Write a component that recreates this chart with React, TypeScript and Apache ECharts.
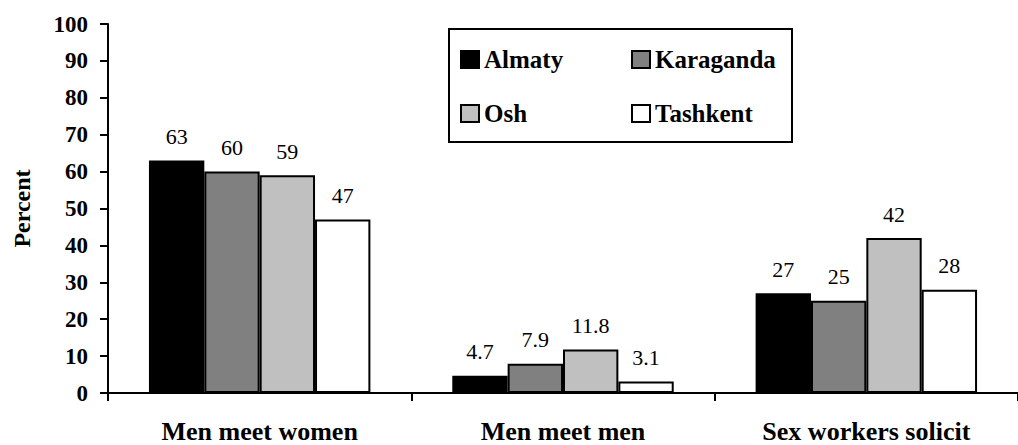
import React, { useEffect, useRef } from "react";
import * as echarts from "echarts";

const categories = ["Men meet women", "Men meet men", "Sex workers solicit"];
const cities = ["Almaty", "Karaganda", "Osh", "Tashkent"];
const almaty = [63, 4.7, 27];
const karaganda = [60, 7.9, 25];
const osh = [59, 11.8, 42];
const tashkent = [47, 3.1, 28];
const colors = ["#000000", "#808080", "#C0C0C0", "#FFFFFF"];
const yTicks = { min: 0, max: 100, interval: 10 };

const FONT = "Liberation Serif, Times New Roman, Times, serif";

export default function App() {
  const ref = useRef<HTMLDivElement>(null);
  useEffect(() => {
    if (!ref.current) return;
    const chart = echarts.init(ref.current, undefined, { renderer: "svg" });
    const values = [almaty, karaganda, osh, tashkent];
    const series = cities.map((name, i) => ({
      name,
      type: "bar" as const,
      data: values[i],
      barGap: "0%",
      barCategoryGap: "27%",
      itemStyle: { color: colors[i], borderColor: "#000", borderWidth: 2 },
      label: {
        show: true,
        position: "top" as const,
        distance: 13,
        color: "#000",
        fontFamily: FONT,
        fontSize: 22,
        fontWeight: "normal" as const,
      },
    }));
    const legendPos = [
      [460, 47],
      [631, 47],
      [460, 101],
      [631, 101],
    ];
    const legends = cities.map((c, i) => ({
      orient: "horizontal" as const,
      icon: "rect",
      itemWidth: 18,
      itemHeight: 17,
      padding: 0,
      selectedMode: false,
      left: legendPos[i][0],
      top: legendPos[i][1],
      data: [c],
      textStyle: {
        fontFamily: FONT,
        fontSize: 25,
        fontWeight: "bold" as const,
        color: "#000",
      },
    }));
    chart.setOption({
      animation: false,
      backgroundColor: "#fff",
      legend: legends,
      graphic: [
        {
          type: "rect",
          shape: { x: 449, y: 29, width: 343, height: 113 },
          style: { fill: "none", stroke: "#000", lineWidth: 2 },
          z: 10,
        },
      ],
      grid: { left: 108, top: 24, width: 919, height: 369 },
      xAxis: {
        type: "category",
        data: categories,
        axisLine: { lineStyle: { color: "#000", width: 2 } },
        axisTick: { show: true, length: 8, lineStyle: { color: "#000", width: 2 } },
        axisLabel: {
          margin: 25,
          color: "#000",
          fontFamily: FONT,
          fontSize: 26,
          fontWeight: "bold",
        },
      },
      yAxis: {
        type: "value",
        min: yTicks.min,
        max: yTicks.max,
        interval: yTicks.interval,
        name: "Percent",
        nameLocation: "middle",
        nameRotate: 90,
        nameGap: 74,
        nameTextStyle: {
          fontFamily: FONT,
          fontSize: 24,
          fontWeight: "bold",
          color: "#000",
        },
        splitLine: { show: false },
        axisLine: { show: true, lineStyle: { color: "#000", width: 2 } },
        axisTick: { show: true, length: 8, lineStyle: { color: "#000", width: 2 } },
        axisLabel: {
          margin: 20,
          color: "#000",
          fontFamily: FONT,
          fontSize: 23,
          fontWeight: "bold",
        },
      },
      series,
    });
    return () => chart.dispose();
  }, []);
  return (
    <div
      ref={ref}
      style={{ position: "fixed", left: 0, top: 0, width: 1018, height: 445 }}
    />
  );
}
